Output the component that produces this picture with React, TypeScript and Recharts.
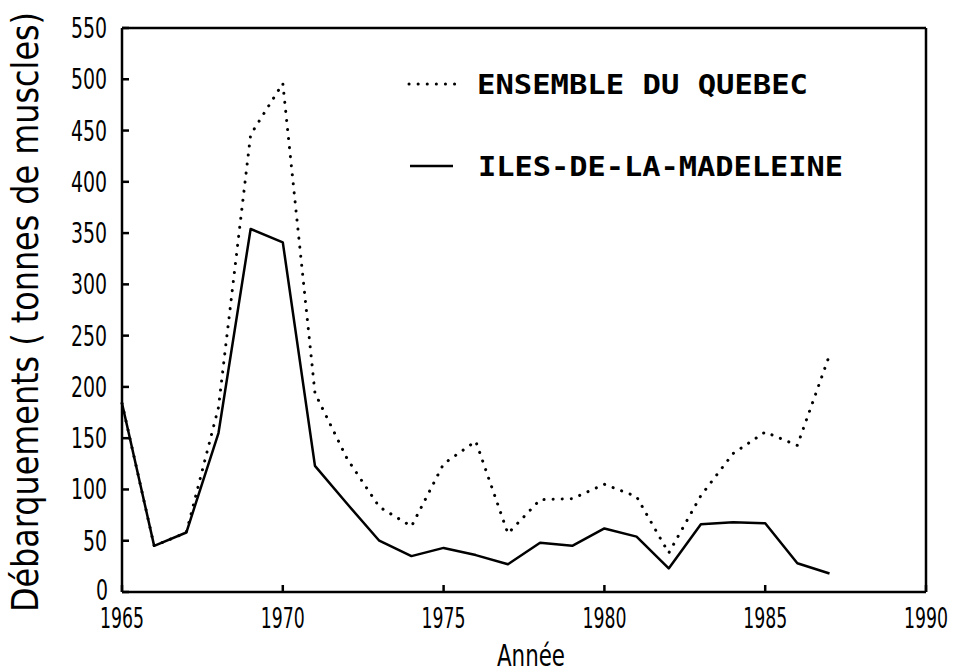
import React from 'react'
import { LineChart, Line, XAxis, YAxis, ReferenceLine, Legend } from 'recharts'

const years = [1965, 1966, 1967, 1968, 1969, 1970, 1971, 1972, 1973, 1974, 1975, 1976, 1977, 1978, 1979, 1980, 1981, 1982, 1983, 1984, 1985, 1986, 1987]
const quebec = [184, 45, 58, 180, 446, 496, 194, 130, 83, 64, 125, 147, 57, 90, 91, 105, 93, 38, 94, 135, 156, 143, 231]
const iles = [184, 45, 58, 155, 354, 341, 123, 86, 50, 35, 43, 36, 27, 48, 45, 62, 54, 23, 66, 68, 67, 28, 18]

const xTicks = [1965, 1970, 1975, 1980, 1985, 1990]
const yTicks = [0, 50, 100, 150, 200, 250, 300, 350, 400, 450, 500, 550]

const data = years.map((year, i) => ({ year, quebec: quebec[i], iles: iles[i] }))

const tickFont = '"DejaVu Sans Condensed", "Liberation Sans Narrow", sans-serif'
const monoFont = '"DejaVu Sans Mono", "Liberation Mono", monospace'

const XTick = ({ x, y, payload }: any) => (
  <g>
    <line x1={x} y1={y} x2={x} y2={y - 7} stroke="#000" strokeWidth={2.5} />
    <text x={x} y={y + 36} textAnchor="middle" fontFamily={tickFont} fontSize={28}
      textLength={44} lengthAdjust="spacingAndGlyphs" fill="#000">
      {payload.value}
    </text>
  </g>
)

const YTick = ({ x, y, payload }: any) => {
  const s = String(payload.value)
  return (
    <g>
      <line x1={x} y1={y} x2={x + 7} y2={y} stroke="#000" strokeWidth={2.5} />
      <text x={x - (s === '0' ? 14 : 15)} y={y + (s === '0' ? 8 : 10)} textAnchor="end" fontFamily={tickFont} fontSize={28}
        textLength={s.length * 12} lengthAdjust="spacingAndGlyphs" fill="#000">
        {s}
      </text>
    </g>
  )
}

const LegendBox = () => (
  <svg width={460} height={130}>
    <line x1={9} y1={34} x2={55} y2={34} stroke="#000" strokeWidth={3} strokeDasharray="0.1 9" strokeLinecap="round" />
    <text x={77} y={44} fontFamily={monoFont} fontSize={27} fontWeight="bold" textLength={331} lengthAdjust="spacingAndGlyphs" fill="#000">
      ENSEMBLE DU QUEBEC
    </text>
    <line x1={10} y1={116} x2={53} y2={116} stroke="#000" strokeWidth={2.5} />
    <text x={78} y={126} fontFamily={monoFont} fontSize={27} fontWeight="bold" textLength={365} lengthAdjust="spacingAndGlyphs" fill="#000">
      ILES-DE-LA-MADELEINE
    </text>
  </svg>
)

export default function App() {
  return (
    <div style={{ position: 'fixed', left: 0, top: 0, width: 953, height: 672, background: '#fff' }}>
      <LineChart width={953} height={672} data={data} margin={{ top: 28, right: 27, left: 62, bottom: 40 }}>
        <XAxis
          dataKey="year"
          type="number"
          domain={[1965, 1990]}
          ticks={xTicks}
          interval={0}
          tickSize={0}
          tickMargin={0}
          axisLine={{ stroke: '#000', strokeWidth: 2.5 }}
          tickLine={false}
          tick={<XTick />}
          height={40}
          label={({ viewBox }: any) => (
            <text x={viewBox.x + viewBox.width / 2 + 7} y={viewBox.y + 74} textAnchor="middle"
              fontFamily={tickFont} fontSize={30} textLength={68} lengthAdjust="spacingAndGlyphs" fill="#000">
              Année
            </text>
          )}
        />
        <YAxis
          type="number"
          domain={[0, 550]}
          ticks={yTicks}
          interval={0}
          tickSize={0}
          tickMargin={0}
          axisLine={{ stroke: '#000', strokeWidth: 2.5 }}
          tickLine={false}
          tick={<YTick />}
          width={60}
          label={({ viewBox }: any) => {
            const cx = viewBox.x - 24
            const cy = viewBox.y + viewBox.height / 2 + 2
            return (
              <text x={cx} y={cy} transform={`rotate(-90 ${cx} ${cy})`} textAnchor="middle"
                fontFamily={tickFont} fontSize={38} textLength={600} lengthAdjust="spacingAndGlyphs" fill="#000">
                Débarquements ( tonnes de muscles)
              </text>
            )
          }}
        />
        <ReferenceLine y={550} stroke="#000" strokeWidth={2.5} />
        <ReferenceLine x={1990} stroke="#000" strokeWidth={2.5} />
        <Legend content={<LegendBox />} layout="horizontal" verticalAlign="middle" align="center"
          wrapperStyle={{ top: 50, left: 400, width: 460 }} />
        <Line dataKey="quebec" stroke="#000" strokeWidth={3} strokeDasharray="0.1 9" strokeLinecap="round"
          dot={false} activeDot={false} isAnimationActive={false} legendType="none" />
        <Line dataKey="iles" stroke="#000" strokeWidth={2.5} strokeLinejoin="round"
          dot={false} activeDot={false} isAnimationActive={false} legendType="none" />
      </LineChart>
    </div>
  )
}
